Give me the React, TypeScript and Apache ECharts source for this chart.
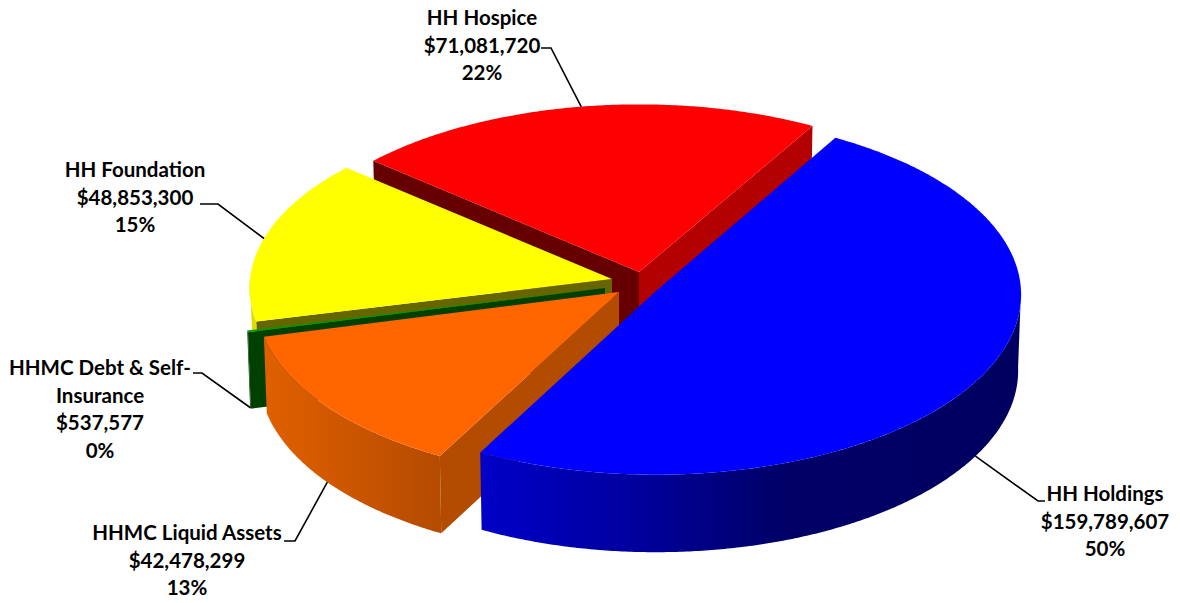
import React, { useEffect, useRef } from "react";
import * as echarts from "echarts";

// Data, clockwise from the first slice
const sliceNames = ["HH Holdings", "HHMC Liquid Assets", "HHMC Debt & Self-Insurance", "HH Foundation", "HH Hospice"];
const sliceValues = [159789607, 42478299, 537577, 48853300, 71081720];
const labelNameLines = [["HH Holdings"], ["HHMC Liquid Assets"], ["HHMC Debt & Self-", "Insurance"], ["HH Foundation"], ["HH Hospice"]];

// Style and layout
const FIRST_ANGLE = 30;
const DEPTH = 76;
const DEPTH_PERSP = 3;
const INSET = 0.992;
const tipX = [656, 619, 605, 612, 639];
const tipY = [291, 292, 288, 279, 272];
const radiusX = [365, 362, 364, 362, 362];
const radiusY = [180, 178, 176, 176, 176];
const persp = [0.02, 0.05, 0.05, 0.05, 0.05];
const topColors = ["#0000ff", "#ff6600", "#009a00", "#ffff00", "#ff0000"];
const cutStartColors = ["#000080", "#b34b00", "#004000", "#666600", "#660000"];
const cutEndColors = ["#000080", "#b34b00", "#004000", "#666600", "#b30000"];
const wallStops = [
  [[0, "#0000c8"], [0.3, "#00009c"], [0.55, "#000068"], [1, "#000060"]],
  [[0, "#e06000"], [0.5, "#cc5500"], [1, "#b34b00"]],
  [[0, "#004000"], [1, "#004000"]],
  [[0, "#dcdc00"], [1, "#dcdc00"]],
  [[0, "#b30000"], [1, "#b30000"]],
];
const labelCenterX = [1105, 187, 100, 135, 482];
const labelFirstY = [493, 532, 367, 169, 17];
const LINE_H = 27.6;
const elbowStart = [[1045, 501], [284, 541], [193, 373], [200, 204], [541, 48]];
const elbowMid = [[1038, 501], [295, 541], [202, 373], [218, 204], [551, 48]];
const FONT = "bold 20.5px Lato, 'Open Sans', sans-serif";
const drawOrder = [4, 3, 2, 1, 0];

const total = sliceValues.reduce((a, b) => a + b, 0);
const angles: [number, number][] = [];
{
  let a = FIRST_ANGLE;
  for (const v of sliceValues) {
    const next = a + (v / total) * 360;
    angles.push([a, next]);
    a = next;
  }
}

function project(i: number, deg: number, low = false): [number, number] {
  const t = (deg * Math.PI) / 180;
  const s = Math.sin(t);
  const c = Math.cos(t);
  const p = 1 / (1 + persp[i] * c);
  const dx = radiusX[i] * s * p;
  const dy = -radiusY[i] * c * p;
  if (!low) return [tipX[i] + dx, tipY[i] + dy];
  return [tipX[i] + dx * INSET, tipY[i] + DEPTH - DEPTH_PERSP * c + dy * INSET];
}

function arc(i: number, a: number, b: number, low = false): [number, number][] {
  const pts: [number, number][] = [];
  const n = Math.max(2, Math.ceil(Math.abs(b - a) * 2));
  for (let k = 0; k <= n; k++) pts.push(project(i, a + ((b - a) * k) / n, low));
  return pts;
}

function sinDeg(d: number) {
  return Math.sin((d * Math.PI) / 180);
}

function quad(i: number, deg: number, fill: string) {
  const tip: [number, number] = [tipX[i], tipY[i]];
  const tipLow: [number, number] = [tipX[i], tipY[i] + DEPTH];
  return {
    type: "polygon",
    silent: true,
    shape: { points: [tip, project(i, deg), project(i, deg, true), tipLow] },
    style: { fill },
  };
}

function renderItem(params: any) {
  const i = drawOrder[params.dataIndex];
  const [a, b] = angles[i];
  const children: any[] = [];

  if (sinDeg(a) < 0) children.push(quad(i, a, cutStartColors[i]));
  if (sinDeg(b) > 0) children.push(quad(i, b, cutEndColors[i]));

  // outer wall: the part of the rim on the camera's side, 90..270 degrees
  const from = Math.max(a, 90);
  const to = Math.min(b, 270);
  if (to > from) {
    const pts = [...arc(i, from, to), ...arc(i, from, to, true).reverse()];
    children.push({
      type: "polygon",
      silent: true,
      shape: { points: pts },
      style: {
        fill: new echarts.graphic.LinearGradient(
          0, 0, 1, 0,
          wallStops[i].map(([offset, color]) => ({ offset: offset as number, color: color as string }))
        ),
      },
    });
  }

  children.push({
    type: "polygon",
    silent: true,
    shape: { points: [[tipX[i], tipY[i]], ...arc(i, a, b)] },
    style: { fill: topColors[i] },
  });

  // leader line, from the middle of the slice's rim
  const mid = (a + b) / 2;
  const cosMid = Math.cos((mid * Math.PI) / 180);
  const anchor = project(i, mid, cosMid < 0);
  children.push({
    type: "polyline",
    silent: true,
    shape: { points: [elbowStart[i], elbowMid[i], anchor] },
    style: { stroke: "#000", lineWidth: 1.6, fill: null },
  });

  // label
  const lines = [
    ...labelNameLines[i],
    "$" + sliceValues[i].toLocaleString("en-US"),
    Math.round((sliceValues[i] / total) * 100) + "%",
  ];
  lines.forEach((text, k) => {
    children.push({
      type: "text",
      silent: true,
      style: {
        text,
        x: labelCenterX[i],
        y: labelFirstY[i] + k * LINE_H,
        font: FONT,
        fill: "#000",
        textAlign: "center",
        textVerticalAlign: "middle",
      },
    });
  });

  return { type: "group", children };
}

export default function App() {
  const ref = useRef<HTMLDivElement>(null);
  useEffect(() => {
    const chart = echarts.init(ref.current!, null, { renderer: "svg" });
    chart.setOption({
      animation: false,
      backgroundColor: "#fff",
      series: [
        {
          type: "custom",
          coordinateSystem: "none",
          silent: true,
          renderItem,
          data: drawOrder.map((i) => ({ name: sliceNames[i], value: [sliceValues[i]] })),
        },
      ],
    });
    return () => chart.dispose();
  }, []);
  return <div ref={ref} style={{ position: "absolute", left: 0, top: 0, width: 1180, height: 603 }} />;
}
